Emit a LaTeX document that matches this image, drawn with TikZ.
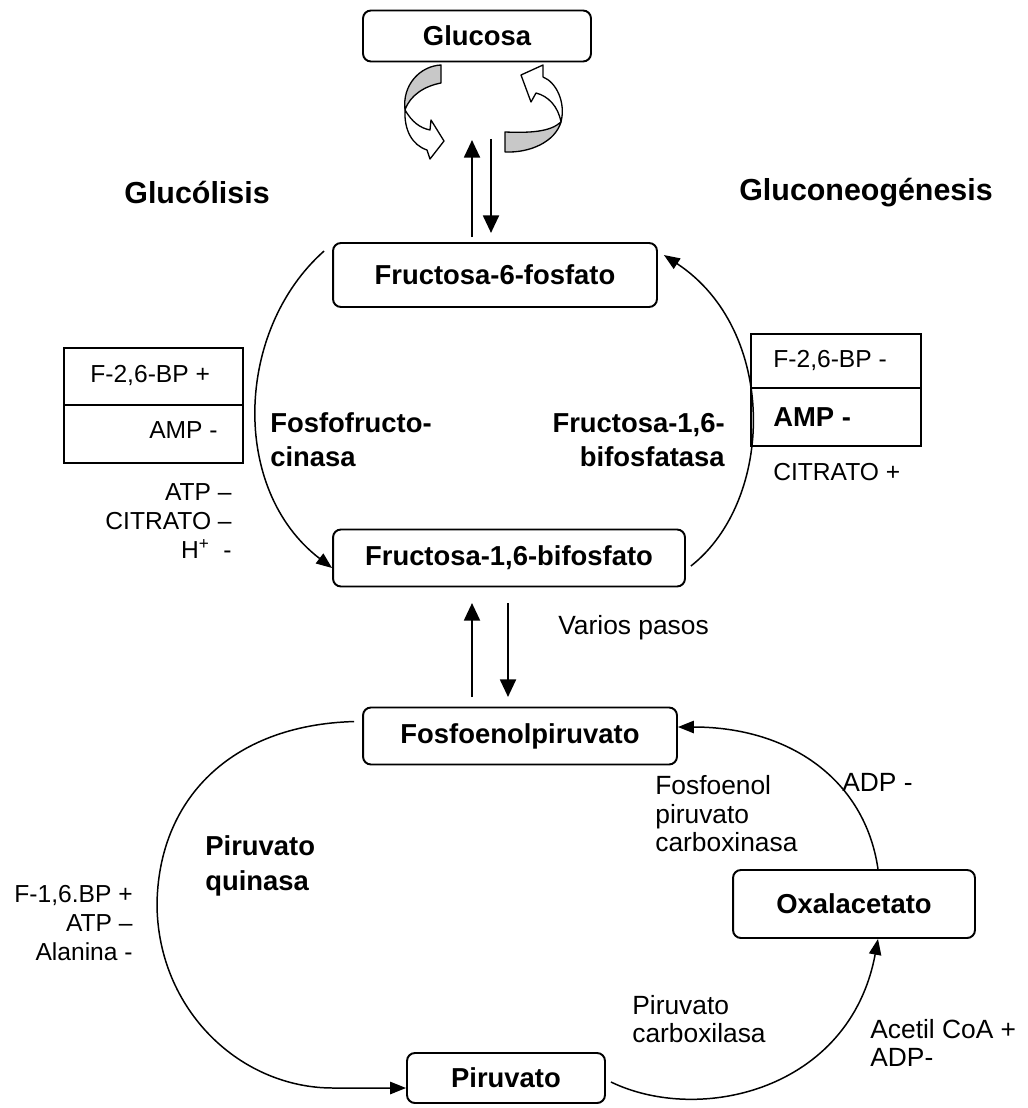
\documentclass[tikz,border=0pt]{standalone}
\usepackage{fontspec}
\setmainfont{Liberation Sans}
\usetikzlibrary{arrows.meta}
\definecolor{bandgray}{RGB}{200,200,200}

\begin{document}
\begin{tikzpicture}[x=0.02cm,y=-0.02cm,
  box/.style={draw,line width=1.1pt,rounded corners=4.5pt,fill=white,
              font=\fontsize{15.6}{18}\selectfont\bfseries},
  cell/.style={draw,line width=0.9pt,inner sep=0pt},
  enz/.style={font=\fontsize{15.6}{19.5}\selectfont\bfseries,inner sep=0pt,align=left},
  ttl/.style={font=\fontsize{17.3}{20}\selectfont\bfseries,inner sep=0pt},
  reg/.style={font=\fontsize{14}{16.5}\selectfont,inner sep=0pt,align=left},
  regb/.style={font=\fontsize{15}{16.2}\selectfont,inner sep=0pt,align=left},
  flow/.style={line width=0.85pt,-{Triangle[length=9pt,width=7pt]}},
  vert/.style={line width=1.4pt,-{Triangle[length=10pt,width=9pt]}},
  turn/.style={draw=black,line width=0.75pt,line join=round}
]
\useasboundingbox (0,0) rectangle (1027,1108);

% Metabolites
\node[box,minimum width=4.56cm,minimum height=1.02cm] (gluc)  at (477,36)   {Glucosa};
\node[box,minimum width=6.48cm,minimum height=1.28cm] (f6p)   at (495,275)  {Fructosa-6-fosfato};
\node[box,minimum width=7.04cm,minimum height=1.14cm] (f16bp) at (509,558)  {Fructosa-1,6-bifosfato};
\node[box,minimum width=6.28cm,minimum height=1.14cm] (pep)   at (520,736)  {Fosfoenolpiruvato};
\node[box,minimum width=3.96cm,minimum height=1.00cm] (pyr)   at (506,1078) {Piruvato};
\node[box,minimum width=4.84cm,minimum height=1.36cm] (oaa)   at (854,904)  {Oxalacetato};

% Pathway titles
\node[ttl] (glyc) at (197,193) {Glucólisis};
\node[ttl] (gng)  at (866,193) {Gluconeogénesis};

% Regulator tables
\node[cell,minimum width=3.58cm,minimum height=1.14cm] (lcell1) at (153.5,376.5) {};
\node[cell,minimum width=3.58cm,minimum height=1.16cm] (lcell2) at (153.5,434) {};
\node[reg,anchor=west] (lt1) at (90,375) {F-2,6-BP +};
\node[reg,anchor=east] (lt2) at (218,430) {AMP -};
\node[reg,anchor=east,align=right] (lt3) at (232,521)
  {ATP --\\CITRATO --\\H\textsuperscript{+}\ \ -};

\node[cell,minimum width=3.4cm,minimum height=1.08cm] (rcell1) at (836,361) {};
\node[cell,minimum width=3.4cm,minimum height=1.16cm] (rcell2) at (836,417) {};
\node[reg,anchor=west] (rt1) at (773,360) {F-2,6-BP -};
\node[enz,anchor=west] (rt2) at (773,417) {AMP -};
\node[reg,anchor=west] (rt3) at (773,472) {CITRATO +};

% Enzymes and effectors
\node[enz,anchor=west] (pfk) at (270,440) {Fosfofructo-\\cinasa};
\node[enz,anchor=east,align=right] (fbp) at (725,440) {Fructosa-1,6-\\bifosfatasa};
\node[enz,anchor=west] (pk) at (205,866) {Piruvato\\quinasa};
\node[reg,anchor=east,align=right] (pkreg) at (133,923) {F-1,6.BP +\\ATP --\\Alanina -};
\node[regb,anchor=west] (pepck) at (655,814) {Fosfoenol\\piruvato\\carboxinasa};
\node[regb,anchor=west] (adp) at (842,782) {ADP -};
\node[regb,anchor=west] (pc) at (632,1019) {Piruvato\\carboxilasa};
\node[regb,anchor=west] (acoa) at (870,1043) {Acetil CoA +\\ADP-};
\node[regb,anchor=west] (vp) at (558,628) {Varios pasos};

% Straight reversible steps
\coordinate (g1) at (472,237); \coordinate (g2) at (472,140);
\coordinate (g3) at (491,139); \coordinate (g4) at (491,233);
\coordinate (m1) at (472,697); \coordinate (m2) at (472,603);
\coordinate (m3) at (508,603); \coordinate (m4) at (508,697);
\draw[vert] (g1) -- (g2);
\draw[vert] (g3) -- (g4);
\draw[vert] (m1) -- (m2);
\draw[vert] (m3) -- (m4);

% Cycle arcs
\draw[flow] ([xshift=-0.16cm,yshift=-0.18cm]f6p.north west)
  .. controls (235,330) and (230,490) .. ([yshift=-0.2cm]f16bp.west);
\draw[flow] ([xshift=0.1cm,yshift=-0.16cm]f16bp.east)
  .. controls (775,500) and (778,330) .. ([xshift=0.12cm,yshift=-0.26cm]f6p.north east);
\draw[flow] ([xshift=-0.16cm,yshift=-0.3cm]pep.north west)
  .. controls (230,725) and (158,800) .. (157,905)
  .. controls (158,1010) and (240,1088) .. (333,1088) -- ([yshift=-0.2cm]pyr.west);
\draw[flow] ([xshift=0.1cm,yshift=-0.08cm]pyr.east)
  .. controls (700,1125) and (850,1090) .. ([xshift=0.48cm]oaa.south);
\draw[flow] ([xshift=0.48cm]oaa.north)
  .. controls (865,780) and (790,727) .. ([yshift=0.18cm]pep.east);

% Turning arrows under glucose
\filldraw[turn,fill=bandgray] (441,65) -- (441,83) .. controls (425,86) and (410,95) .. (405,110)
  .. controls (402,85) and (420,66) .. (441,65) -- cycle;
\filldraw[turn,fill=white] (405,110) .. controls (412,122) and (420,128) .. (430,130)
  -- (431,120) -- (444,141) -- (430,159) -- (427,150)
  .. controls (412,145) and (404,130) .. (405,110) -- cycle;
\filldraw[turn,fill=bandgray] (505,132) -- (505,152) .. controls (530,153) and (555,142) .. (561,122)
  .. controls (550,132) and (530,133) .. (505,132) -- cycle;
\filldraw[turn,fill=white] (561,122) .. controls (566,102) and (556,82) .. (543,77)
  -- (543,65) -- (521,75) -- (531,102) -- (536,93)
  .. controls (548,96) and (558,106) .. (561,122) -- cycle;

\end{tikzpicture}
\end{document}
